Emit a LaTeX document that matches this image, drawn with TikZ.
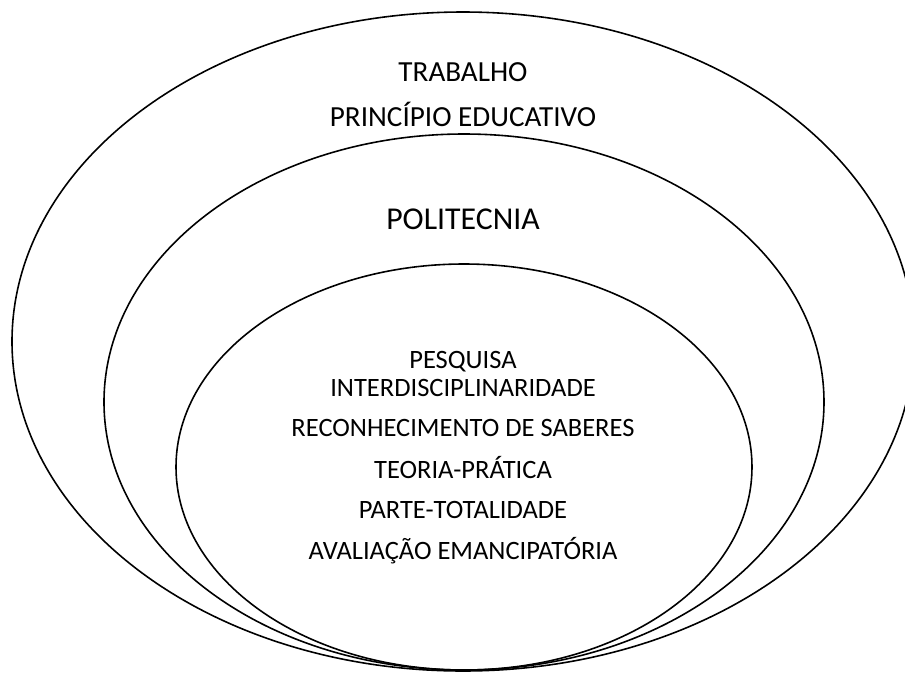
\documentclass[tikz,border=0pt]{standalone}
\usepackage{fontspec}
\setmainfont{Carlito}
\usepackage{tikz}

\begin{document}
\begin{tikzpicture}[x=0.3774pt,y=-0.3774pt]
		\clip (0,0) rectangle (905,673);
		% elipses
		\draw[line width=0.6pt] (463,341.5) ellipse [x radius=451, y radius=329.5];
		\draw[line width=0.6pt] (464,402) ellipse [x radius=360, y radius=268];
		\draw[line width=0.6pt] (464,467) ellipse [x radius=288, y radius=203];
		\node[anchor=base,font=\fontsize{11}{13}\selectfont] (trabalho) at (463,81.4) {TRABALHO};
		\node[anchor=base,font=\fontsize{11}{13}\selectfont] (principio) at (463,126.4) {PRINCÍPIO EDUCATIVO};
		\node[anchor=base,font=\fontsize{12}{14}\selectfont] (politecnia) at (463,229) {POLITECNIA};
		\foreach \Yc/\Texto in 
		{368.5/PESQUISA,396.5/INTERDISCIPLINARIDADE,436.5/RECONHECIMENTO DE SABERES,478.5/TEORIA-PRÁTICA,518.5/PARTE-TOTALIDADE,559.5/AVALIAÇÃO EMANCIPATÓRIA}
		{
			\node[anchor=base,font=\fontsize{10}{12}\selectfont] (l\Yc) at (463,\Yc) {\Texto};
		}
\end{tikzpicture}
\end{document}
